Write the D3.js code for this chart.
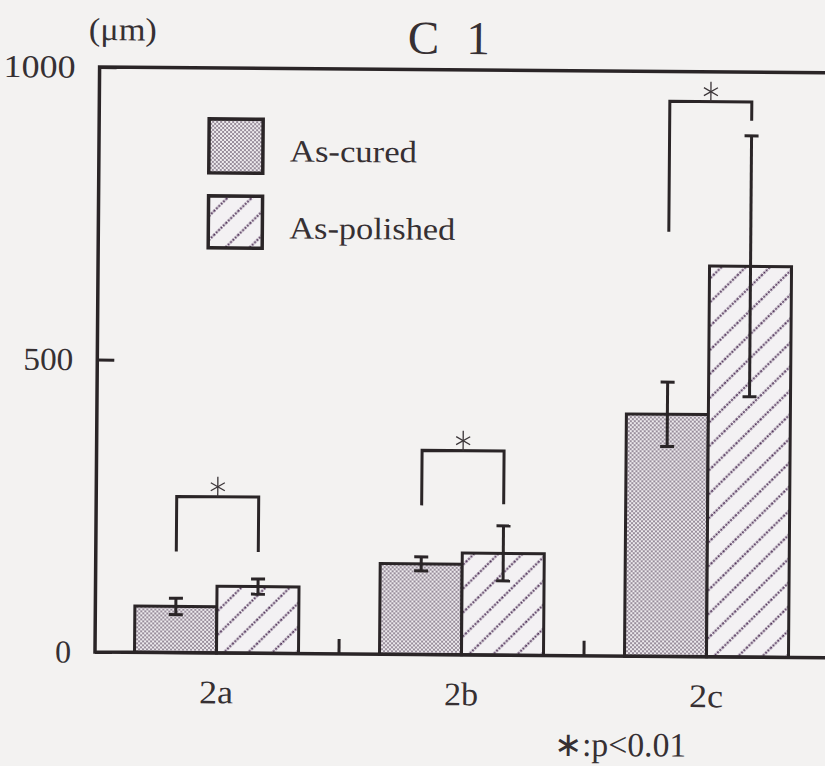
<!DOCTYPE html>
<html>
<head>
<meta charset="utf-8">
<script src="https://cdn.jsdelivr.net/npm/d3@7"></script>
<style>
  html, body { margin: 0; padding: 0; background: #f3f2f1; }
  svg { display: block; }
  text { font-family: "Liberation Serif", "Times New Roman", serif; fill: #363033; }
</style>
</head>
<body>
<script>
// Thickness (µm) by specimen group, mean ± SD
const categories = ["2a", "2b", "2c"];
const seriesNames = ["As-cured", "As-polished"];
const asCured = [79, 155, 414];
const asCuredSD = [14, 12, 55];
const asPolished = [114, 174, 668];
const asPolishedSD = [13, 47, 223];
const yTicks = [0, 500, 1000];
// Significance brackets (µm): crossbar level, left and right leg ends
const bracketTop = [267, 349, 949];
const bracketLeft = [173, 255, 726];
const bracketRight = [173, 258, 917];
const titleText = "C 1";
const unitText = "(μm)";
const noteText = "∗:p<0.01";

const W = 825, H = 766;
const ink = "#2a2527";
const frame = { left: 95, right: 840, top: 67, bottom: 652 };

const svg = d3.select("body").append("svg").attr("width", W).attr("height", H);
svg.append("rect").attr("width", W).attr("height", H).attr("fill", "#f3f2f1");

// Fill patterns: fine stipple and dotted diagonal hatch
const defs = svg.append("defs");
const stip = defs.append("pattern").attr("id", "stipple")
  .attr("patternUnits", "userSpaceOnUse").attr("width", 4).attr("height", 4);
stip.append("rect").attr("width", 4).attr("height", 4).attr("fill", "#eeebee");
stip.append("rect").attr("x", 0).attr("y", 0).attr("width", 2).attr("height", 2).attr("fill", "#988d9b");
stip.append("rect").attr("x", 2).attr("y", 2).attr("width", 2).attr("height", 2).attr("fill", "#988d9b");

const hatch = defs.append("pattern").attr("id", "hatch")
  .attr("patternUnits", "userSpaceOnUse").attr("width", 17).attr("height", 17)
  .attr("patternTransform", "rotate(-45)");
hatch.append("rect").attr("width", 17).attr("height", 17).attr("fill", "#f3f1f3");
hatch.append("line").attr("x1", 0).attr("x2", 17).attr("y1", 8.5).attr("y2", 8.5)
  .attr("stroke", "#4e3057").attr("stroke-width", 1.9).attr("stroke-dasharray", "2 1.3");

const fills = { "As-cured": "url(#stipple)", "As-polished": "url(#hatch)" };

// Whole figure sits slightly tilted, as on the printed page
const g = svg.append("g").attr("transform", "rotate(0.45, 97, 652)");

const x0 = d3.scaleBand().domain(categories).range([94, 829]);
const x1 = d3.scaleBand().domain(seriesNames).range([0, x0.bandwidth()]).paddingOuter(0.494);
const y = d3.scaleLinear().domain([0, 1000]).range([frame.bottom, frame.top]);

const rows = categories.map((c, i) => ({
  cat: c,
  values: [
    { s: "As-cured", v: asCured[i], sd: asCuredSD[i] },
    { s: "As-polished", v: asPolished[i], sd: asPolishedSD[i] }
  ]
}));

// Bars
const groups = g.selectAll("g.grp").data(rows).join("g").attr("class", "grp")
  .attr("transform", d => `translate(${x0(d.cat)},0)`);
groups.selectAll("rect").data(d => d.values).join("rect")
  .attr("x", d => x1(d.s))
  .attr("y", d => y(d.v))
  .attr("width", x1.bandwidth())
  .attr("height", d => y(0) - y(d.v))
  .attr("fill", d => fills[d.s])
  .attr("stroke", ink).attr("stroke-width", 3);

// Error bars (± SD)
const cap = 7;
groups.selectAll("g.err").data(d => d.values).join("g").attr("class", "err")
  .each(function (d) {
    const cx = x1(d.s) + x1.bandwidth() / 2;
    const e = d3.select(this);
    const yt = y(d.v + d.sd), yb = y(d.v - d.sd);
    e.append("line").attr("x1", cx).attr("x2", cx).attr("y1", yt).attr("y2", yb);
    e.append("line").attr("x1", cx - cap).attr("x2", cx + cap).attr("y1", yt).attr("y2", yt);
    e.append("line").attr("x1", cx - cap).attr("x2", cx + cap).attr("y1", yb).attr("y2", yb);
    e.selectAll("line").attr("stroke", ink).attr("stroke-width", 3);
  });

// Significance brackets with asterisks
categories.forEach((c, i) => {
  const xl = x0(c) + x1("As-cured") + x1.bandwidth() / 2;
  const xr = x0(c) + x1("As-polished") + x1.bandwidth() / 2;
  const yt = y(bracketTop[i]);
  g.append("path")
    .attr("d", `M${xl},${y(bracketLeft[i])}V${yt}H${xr}V${y(bracketRight[i])}`)
    .attr("fill", "none").attr("stroke", ink).attr("stroke-width", 3);
  const cx = (xl + xr) / 2, cy = yt - 10;
  const a = g.append("g").attr("stroke", "#3b3538").attr("stroke-width", 1.3);
  a.append("line").attr("x1", cx).attr("x2", cx).attr("y1", cy - 10).attr("y2", yt);
  a.append("line").attr("x1", cx - 7).attr("x2", cx + 7).attr("y1", cy - 4).attr("y2", cy + 4);
  a.append("line").attr("x1", cx - 7).attr("x2", cx + 7).attr("y1", cy + 4).attr("y2", cy - 4);
});

// Category dividers on the baseline
g.selectAll("line.div").data(categories.slice(1)).join("line").attr("class", "div")
  .attr("x1", d => x0(d)).attr("x2", d => x0(d))
  .attr("y1", frame.bottom).attr("y2", frame.bottom - 15)
  .attr("stroke", ink).attr("stroke-width", 3);

// Frame (left, top, bottom)
g.append("path")
  .attr("d", `M${frame.right},${frame.top}H${frame.left}V${frame.bottom}H${frame.right}`)
  .attr("fill", "none").attr("stroke", ink).attr("stroke-width", 3.5);

// Y axis
const tickLabelWidth = { 1000: 72, 500: 50 };
const yAxis = g.append("g").attr("transform", `translate(${frame.left},0)`)
  .call(d3.axisLeft(y).tickValues(yTicks).tickFormat(d3.format("d"))
    .tickSizeInner(-17).tickSizeOuter(0).tickPadding(24));
yAxis.select(".domain").remove();
yAxis.selectAll(".tick line").attr("stroke", ink).attr("stroke-width", 3);
yAxis.selectAll(".tick text")
  .attr("font-family", "Liberation Serif, serif").attr("font-size", 32).attr("fill", "#363033")
  .each(function (d) {
    if (tickLabelWidth[d]) d3.select(this).attr("textLength", tickLabelWidth[d]).attr("lengthAdjust", "spacingAndGlyphs");
  });

// X axis labels
const xAxis = g.append("g").attr("transform", `translate(0,${frame.bottom})`)
  .call(d3.axisBottom(x0).tickSize(0).tickPadding(27));
xAxis.select(".domain").remove();
xAxis.selectAll(".tick text")
  .attr("font-family", "Liberation Serif, serif").attr("font-size", 33).attr("fill", "#363033")
  .attr("textLength", 34).attr("lengthAdjust", "spacingAndGlyphs");

// Unit and title
g.append("text").attr("x", 84).attr("y", 40).attr("font-size", 32)
  .attr("textLength", 68).attr("lengthAdjust", "spacingAndGlyphs").text(unitText);
g.append("text").attr("x", 403).attr("y", 51).attr("font-size", 47)
  .attr("textLength", 82).attr("lengthAdjust", "spacing").text(titleText);

// Legend
const legend = g.append("g");
const legendRows = [
  { s: seriesNames[0], y: 118, h: 54, ty: 160, w: 127, fs: 31 },
  { s: seriesNames[1], y: 195, h: 52, ty: 237, w: 166, fs: 31 }
];
legend.selectAll("rect").data(legendRows).join("rect")
  .attr("x", 205).attr("y", d => d.y).attr("width", 54).attr("height", d => d.h)
  .attr("fill", d => fills[d.s]).attr("stroke", ink).attr("stroke-width", 3.5);
legend.selectAll("text").data(legendRows).join("text")
  .attr("x", 286).attr("y", d => d.ty).attr("font-size", d => d.fs)
  .attr("textLength", d => d.w).attr("lengthAdjust", "spacingAndGlyphs")
  .text(d => d.s);

// Significance note
g.append("text").attr("x", 555).attr("y", 752).attr("font-size", 34)
  .attr("textLength", 132).attr("lengthAdjust", "spacingAndGlyphs").text(noteText);
</script>
</body>
</html>
